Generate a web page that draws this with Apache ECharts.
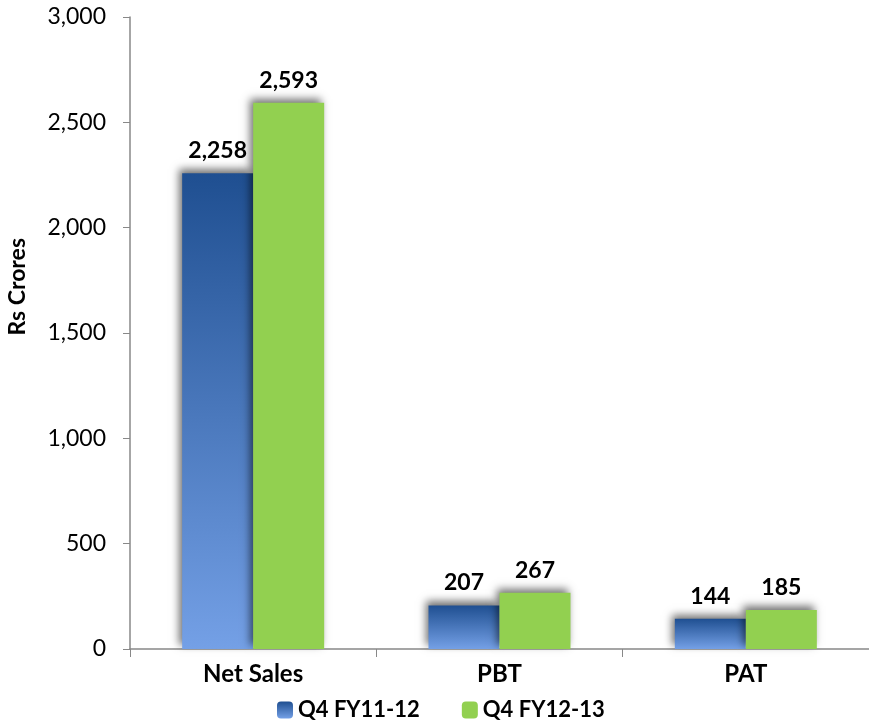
<!DOCTYPE html>
<html>
<head>
<meta charset="utf-8">
<script src="https://cdn.jsdelivr.net/npm/echarts@6/dist/echarts.min.js"></script>
<style>
  html, body { margin: 0; padding: 0; background: #fff; }
  #chart { width: 869px; height: 727px; }
</style>
</head>
<body>
<div id="chart"></div>
<script>
"use strict";
var categories = ["Net Sales", "PBT", "PAT"];
var seriesNames = ["Q4 FY11-12", "Q4 FY12-13"];
var prevYear = [2258, 207, 144];
var currYear = [2593, 267, 185];
var font = "Lato, 'DejaVu Sans', sans-serif";

function chart1() {
  var blueFill = new echarts.graphic.LinearGradient(0, 0, 0, 1, [
    { offset: 0, color: "#1F4F91" },
    { offset: 1, color: "#74A0E6" },
  ]);
  var shadow = {
    shadowBlur: 8,
    shadowColor: "rgba(0,0,0,0.55)",
    shadowOffsetX: -3,
    shadowOffsetY: -4,
  };
  var label = {
    show: true,
    position: "top",
    distance: 11,
    fontFamily: font,
    fontSize: 23,
    fontWeight: "bold",
    color: "#000",
    formatter: function (p) {
      return p.value.toLocaleString("en-US");
    },
  };

  var chart = echarts.init(document.getElementById("chart"));
  chart.setOption({
    animation: false,
    grid: {
      left: 130,
      top: 17,
      width: 744,
      height: 632,
    },
    legend: {
      top: 694,
      left: 272,
      itemWidth: 16,
      itemHeight: 17,
      itemGap: 42,
      textStyle: {
        fontFamily: font,
        fontSize: 22,
        fontWeight: "bold",
        color: "#000",
      },
      data: seriesNames,
    },
    graphic: [
      {
        type: "text",
        left: 6,
        top: 238,
        rotation: Math.PI / 2,
        style: {
          text: "Rs Crores",
          fontFamily: font,
          fontSize: 23,
          fontWeight: "bold",
          fill: "#000",
        },
      },
    ],
    xAxis: {
      type: "category",
      data: categories,
      axisLine: { lineStyle: { color: "#888", width: 1.5 } },
      axisTick: { show: true, length: 8, lineStyle: { color: "#888" } },
      axisLabel: {
        margin: 13,
        fontFamily: font,
        fontSize: 24,
        fontWeight: "bold",
        color: "#000",
      },
    },
    yAxis: {
      type: "value",
      min: 0,
      max: 3000,
      interval: 500,
      splitLine: { show: false },
      axisLine: { show: true, lineStyle: { color: "#888", width: 1.5 } },
      axisTick: { show: true, length: 7, lineStyle: { color: "#888" } },
      axisLabel: {
        margin: 24,
        fontFamily: font,
        fontSize: 23,
        color: "#000",
        formatter: function (v) {
          return v.toLocaleString("en-US");
        },
      },
    },
    series: [
      {
        name: seriesNames[0],
        type: "bar",
        data: prevYear,
        barWidth: 71,
        barGap: "0%",
        itemStyle: Object.assign({ color: blueFill }, shadow),
        label: label,
      },
      {
        name: seriesNames[1],
        type: "bar",
        data: currYear,
        barWidth: 71,
        itemStyle: Object.assign({ color: "#92D050" }, shadow),
        label: label,
      },
    ],
  });
}

chart1();
</script>
</body>
</html>
